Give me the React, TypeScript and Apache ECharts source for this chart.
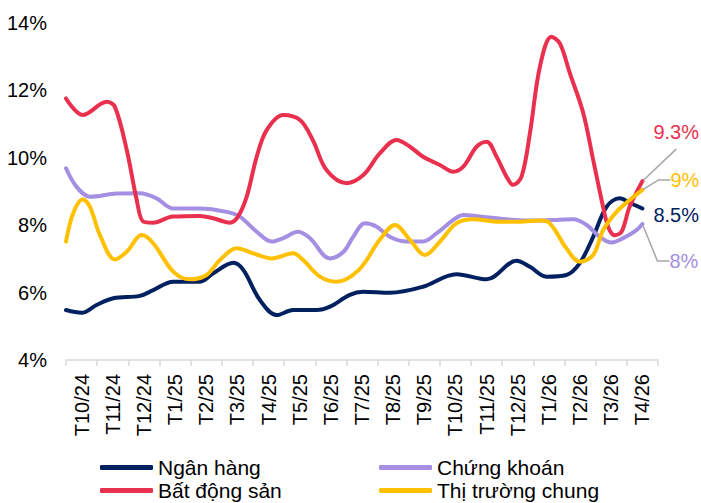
import React, { useEffect, useRef } from "react";
import * as echarts from "echarts";

// Month labels on the x axis
const months = [
  "T10/24", "T11/24", "T12/24", "T1/25", "T2/25", "T3/25", "T4/25", "T5/25",
  "T6/25", "T7/25", "T8/25", "T9/25", "T10/25", "T11/25", "T12/25", "T1/26",
  "T2/26", "T3/26", "T4/26",
];

// Y axis range (%)
const yMin = 4;
const yMax = 14;
const yStep = 2;

// Points: [position in months from the axis start, value %]
const bankPoints: [number, number][] = [
  [0, 5.48], [0.5, 5.4], [0.98, 5.63], [1.52, 5.83], [2.37, 5.9], [2.8, 6.07],
  [3.44, 6.32], [4.3, 6.32], [4.73, 6.57], [5.37, 6.88], [5.69, 6.67], [6.22, 5.78],
  [6.76, 5.33], [7.29, 5.48], [8.04, 5.48], [8.47, 5.58], [9.11, 5.93], [9.54, 6.02],
  [10.39, 5.99], [11.46, 6.17], [12.53, 6.54], [13.5, 6.39], [14.46, 6.94], [14.89, 6.76],
  [15.42, 6.47], [16.06, 6.52], [16.49, 6.87], [16.92, 7.65], [17.35, 8.54], [17.77, 8.79],
  [18.09, 8.66], [18.5, 8.49],
];

const securitiesPoints: [number, number][] = [
  [0, 9.68], [0.34, 9.13], [0.77, 8.84], [1.63, 8.93], [2.37, 8.94], [2.91, 8.79],
  [3.44, 8.49], [4.3, 8.49], [5.16, 8.39], [5.58, 8.25], [6.12, 7.8], [6.6, 7.51],
  [6.97, 7.61], [7.45, 7.8], [7.83, 7.61], [8.47, 7.01], [8.9, 7.2], [9.22, 7.65],
  [9.59, 8.05], [9.97, 7.95], [10.39, 7.65], [10.93, 7.51], [11.46, 7.51], [11.89, 7.75],
  [12.43, 8.15], [12.75, 8.3], [13.28, 8.25], [14.14, 8.17], [14.99, 8.13], [15.63, 8.15],
  [16.28, 8.17], [16.71, 8.0], [17.13, 7.65], [17.51, 7.48], [17.88, 7.61], [18.31, 7.85],
  [18.5, 8.03],
];

const realEstatePoints: [number, number][] = [
  [0, 11.75], [0.54, 11.26], [1.31, 11.65], [1.57, 11.5], [1.95, 10.22], [2.27, 8.74],
  [2.48, 8.1], [2.79, 8.07], [3.43, 8.25], [4.3, 8.27], [4.72, 8.2], [5.26, 8.07],
  [5.52, 8.25], [5.8, 8.84], [6.12, 10.02], [6.44, 10.81], [6.97, 11.26], [7.51, 11.11],
  [7.92, 10.52], [8.36, 9.63], [9.01, 9.24], [9.54, 9.48], [10.07, 10.12], [10.61, 10.52],
  [11.04, 10.32], [11.46, 10.02], [12.0, 9.78], [12.43, 9.58], [12.75, 9.73], [13.18, 10.32],
  [13.5, 10.47], [13.82, 10.02], [14.14, 9.43], [14.35, 9.19], [14.62, 9.43], [14.89, 10.72],
  [15.21, 12.69], [15.58, 13.58], [15.85, 13.38], [16.17, 12.5], [16.6, 11.32], [16.92, 9.93],
  [17.19, 8.74], [17.4, 7.95], [17.61, 7.7], [17.83, 7.8], [18.09, 8.54], [18.5, 9.3],
];

const marketPoints: [number, number][] = [
  [0, 7.51], [0.23, 8.35], [0.54, 8.76], [0.77, 8.54], [1.09, 7.7], [1.57, 6.98],
  [1.95, 7.21], [2.43, 7.7], [2.8, 7.46], [3.44, 6.62], [3.98, 6.39], [4.51, 6.52],
  [4.94, 6.96], [5.48, 7.31], [6.01, 7.16], [6.6, 7.01], [7.29, 7.16], [7.61, 6.96],
  [8.15, 6.47], [8.68, 6.32], [9.4, 6.67], [10.07, 7.56], [10.56, 8.0], [11.04, 7.56],
  [11.52, 7.11], [12.0, 7.51], [12.53, 8.05], [13.07, 8.17], [13.92, 8.1], [14.57, 8.1],
  [15.21, 8.13], [15.53, 8.05], [16.06, 7.31], [16.49, 6.91], [16.92, 7.11], [17.24, 7.85],
  [17.67, 8.39], [18.09, 8.74], [18.5, 9.04],
];

const FONT = 'Arial, "Liberation Sans", sans-serif';

const seriesDefs = [
  { name: "Ngân hàng", color: "#002060", points: bankPoints, dx: 10, dy: 7, guide: false, pad: [0, 0, 0, 0], len2: 0, box: false },
  { name: "Chứng khoán", color: "#A48FE2", points: securitiesPoints, dx: 18, dy: 37, guide: true, pad: [0, 0, 0, 8], len2: 12, box: false },
  { name: "Bất động sản", color: "#E9304E", points: realEstatePoints, dx: 10, dy: -49, guide: true, pad: [6, 0, 8, 0], len2: 0, box: true },
  { name: "Thị trường chung", color: "#FFC000", points: marketPoints, dx: 19, dy: -10, guide: true, pad: [0, 0, 0, 8], len2: 12, box: false },
];

export default function App() {
  const ref = useRef<HTMLDivElement>(null);

  useEffect(() => {
    if (!ref.current) return;
    const chart = echarts.init(ref.current, undefined, { renderer: "svg" });

    const series = seriesDefs.map((s) => ({
      name: s.name,
      type: "line",
      xAxisIndex: 1,
      smooth: 0.35,
      symbol: "none",
      silent: true,
      clip: false,
      lineStyle: { color: s.color, width: 4, cap: "round", join: "round" },
      itemStyle: { color: s.color },
      emphasis: { disabled: true },
      labelLayout: { dx: s.dx, dy: s.dy },
      data: s.points.map((p, i) =>
        i === s.points.length - 1
          ? {
              value: p,
              symbol: "circle",
              symbolSize: 2,
              label: {
                show: true,
                position: "right",
                distance: 0,
                align: "left",
                verticalAlign: "middle",
                padding: s.pad,
                backgroundColor: s.box ? "rgba(255,255,255,0)" : undefined,
                color: s.color,
                fontSize: 20,
                fontFamily: FONT,
                formatter: (prm: any) => `${+Number(prm.value[1]).toFixed(1)}%`,
              },
              labelLine: {
                show: s.guide,
                length2: s.len2,
                minTurnAngle: 0,
                lineStyle: { color: "#A6A6A6", width: 1.5 },
              },
            }
          : { value: p }
      ),
    }));

    const legendPos = [
      { left: 100, top: 457 },
      { left: 379, top: 457 },
      { left: 100, top: 480 },
      { left: 379, top: 480 },
    ];

    chart.setOption({
      animation: false,
      grid: { left: 66, right: 43, top: 22.5, bottom: 143, containLabel: false },
      legend: seriesDefs.map((s, i) => ({
        data: [s.name],
        left: legendPos[i].left,
        top: legendPos[i].top,
        padding: 0,
        icon: "roundRect",
        itemWidth: 53,
        itemHeight: 5,
        selectedMode: false,
        textStyle: { fontSize: 21, fontFamily: FONT, color: "#000" },
      })),
      xAxis: [
        {
          type: "category",
          data: months,
          boundaryGap: true,
          axisLine: { show: true, lineStyle: { color: "#D9D9D9", width: 1.5 } },
          axisTick: { show: true, length: 6, lineStyle: { color: "#D9D9D9", width: 1.5 } },
          axisLabel: {
            rotate: 90,
            interval: 0,
            margin: 14,
            fontSize: 20,
            fontFamily: FONT,
            color: "#000",
          },
          splitLine: { show: false },
        },
        {
          type: "value",
          min: 0,
          max: months.length,
          show: false,
          splitLine: { show: false },
        },
      ],
      yAxis: {
        type: "value",
        min: yMin,
        max: yMax,
        interval: yStep,
        axisLine: { show: false },
        axisTick: { show: false },
        splitLine: { show: false },
        axisLabel: {
          formatter: "{value}%",
          margin: 19,
          fontSize: 20,
          fontFamily: FONT,
          color: "#000",
        },
      },
      series,
    });

    return () => chart.dispose();
  }, []);

  return (
    <div
      ref={ref}
      style={{ position: "fixed", left: 0, top: 0, width: 701, height: 503, background: "#fff" }}
    />
  );
}
